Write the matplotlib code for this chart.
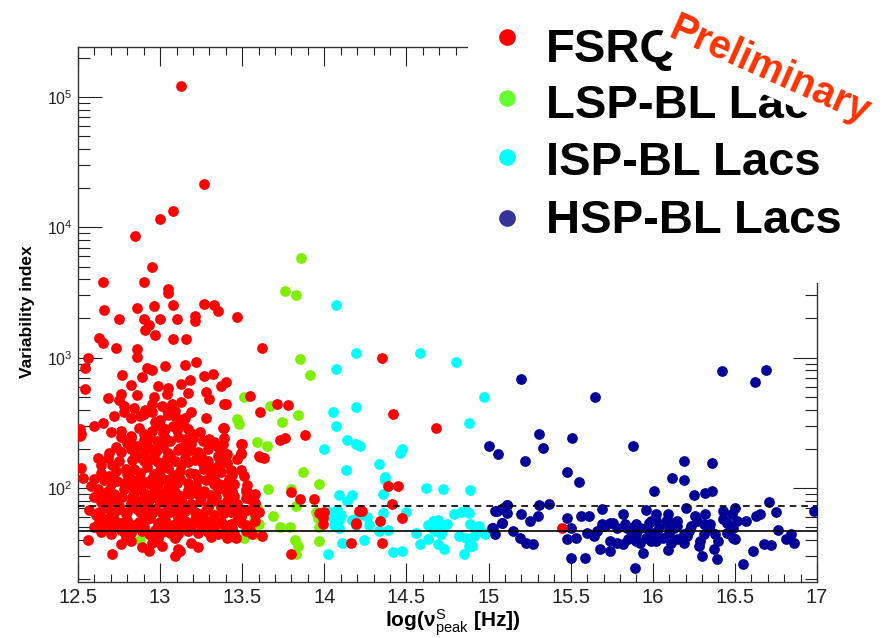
import matplotlib
matplotlib.use('Agg')
import matplotlib.pyplot as plt
from matplotlib.ticker import MultipleLocator, FuncFormatter
from matplotlib.patches import Rectangle
from matplotlib.lines import Line2D

plt.rcParams['font.family'] = ['Liberation Sans', 'DejaVu Sans']
plt.rcParams['mathtext.fontset'] = 'custom'
plt.rcParams['mathtext.rm'] = 'Liberation Sans'
plt.rcParams['mathtext.it'] = 'Liberation Sans:italic'
plt.rcParams['mathtext.bf'] = 'Liberation Sans:bold'

# ---------------- data: (log nu_peak, variability index) ----------------
fsrq = [
    (13.13,121600),(13.27,21400),(13.08,13300),(13.00,11500),(12.85,8570),(12.95,4990),(12.65,3820),(12.90,3820),(13.05,3370),(13.05,3150),
    (12.66,2340),(12.86,2410),(12.96,2470),(13.08,2540),(13.27,2600),(13.33,2530),(13.35,2270),(12.75,1990),(12.90,1990),(13.00,1990),
    (13.10,1990),(13.21,2080),(13.21,1920),(13.47,2040),(12.93,1790),(12.91,1630),(12.97,1480),(12.63,1420),(12.65,1290),(13.08,1390),
    (13.16,1390),(12.73,1190),(12.86,1170),(12.86,1010),(13.62,1190),(12.56,1000),(12.54,840),(12.92,840),(12.95,810),(13.03,860),
    (13.15,880),(13.22,920),(12.77,740),(12.89,710),(13.27,720),(13.32,750),(12.82,620),(12.99,610),(13.05,590),(13.13,630),
    (13.18,680),(13.37,610),(13.40,650),(12.54,575),(14.35,990),(14.42,369),(14.68,291),
    (12.68,490),(12.76,525),(12.75,470),(12.86,515),(13.17,540),(13.28,545),(13.30,480),(13.55,510),(12.96,500),(13.04,530),
    (12.78,425),(12.91,400),(12.95,445),(13.01,427),(13.07,440),(13.09,392),(13.13,460),(13.39,440),(13.40,445),(13.71,445),(13.78,435),(12.84,410),
    (12.72,358),(12.78,380),(12.82,347),(12.90,370),(12.95,380),(13.09,358),(13.15,347),(13.28,347),(13.61,380),(13.00,335),(13.05,365),(13.12,330),
    (12.51,282),(12.52,260),(12.60,300),(12.65,318),(12.76,274),(12.82,251),(12.90,258),(12.95,274),(13.00,300),(13.03,282),(13.08,300),(13.17,282),
    (13.20,258),(13.39,290),(13.38,290),(13.15,237),
    (12.51,251),(12.76,245),(12.82,240),(12.90,232),(12.94,245),(12.98,228),(13.03,240),(13.11,248),(13.19,218),(13.20,240),(13.30,238),(13.33,225),
    (13.39,243),(13.38,218),(13.49,218),(13.50,218),(13.73,233),(13.76,241),(13.88,254),(13.12,204),
    (12.73,205),(12.82,198),(12.86,210),(12.90,190),(12.94,200),(12.98,195),(13.02,205),(13.05,185),(13.11,195),(13.15,210),(13.19,195),(13.23,190),
    (13.29,200),(13.35,205),(13.49,187),(13.41,182),(13.49,182),(13.60,176),(13.63,169),(13.36,171),
    (12.62,171),(12.68,171),(12.75,161),(12.83,165),(12.87,172),(12.90,160),(12.95,168),(12.99,158),(13.04,170),(13.09,162),(13.15,171),(13.17,157),
    (13.21,165),(13.26,152),(13.29,161),(13.35,176),(13.35,148),(13.47,167),(13.41,155),(13.61,173),(12.52,143),(12.64,150),
    (12.64,131),(12.73,135),(12.69,124),(12.84,140),(12.88,130),(12.92,145),(12.96,128),(13.00,138),(13.05,142),(13.08,126),(13.12,135),(13.21,127),
    (13.27,140),(13.31,130),(13.37,132),(13.43,138),(13.49,137),(13.51,124),(12.53,120),(12.80,128),
    (12.58,104),(12.60,117),(12.74,113),(12.70,108),(12.78,110),(12.82,118),(12.86,105),(12.91,112),(12.95,120),(12.99,108),(13.04,115),(13.07,106),
    (13.12,118),(13.17,110),(13.22,104),(13.28,116),(13.33,108),(13.42,117),(13.40,107),(13.45,107),(13.36,107),(13.53,105),(14.39,104),(14.45,104),
    (12.68,95),(12.72,90),(12.78,98),(12.84,92),(12.88,100),(12.93,88),(12.97,96),(13.01,90),(13.05,100),(13.09,93),(13.13,87),(13.17,97),
    (13.23,90),(13.27,95),(13.31,88),(13.35,99),(13.41,92),(13.45,87),(13.52,96),(13.52,95),(13.58,90),(13.80,94),(13.85,83),(13.94,83),(12.62,98),
    (12.64,78),(12.67,82),(12.72,75),(12.77,85),(12.82,77),(12.88,80),(12.92,74),(12.99,84),(13.05,78),(13.09,73),(13.13,82),(13.19,76),
    (13.25,85),(13.31,78),(13.37,74),(13.41,80),(13.47,76),(13.52,84),(13.58,77),(13.43,71),(13.37,71),(13.57,75),(12.60,86),(12.75,73),
    (12.63,65),(12.66,70),(12.70,62),(12.74,68),(12.79,63),(12.84,72),(12.88,66),(12.93,61),(12.97,69),(13.01,64),(13.05,72),(13.11,62),
    (13.15,67),(13.19,70),(13.23,63),(13.28,68),(13.33,62),(13.39,71),(13.43,65),(13.49,61),(13.53,68),(13.58,63),(14.00,66),(13.97,64),
    (13.99,59),(14.21,67),(14.23,67),(14.41,75),(14.47,59),(12.57,68),(12.92,70),(13.06,66),
    (12.63,55),(12.67,52),(12.72,58),(12.76,54),(12.80,57),(12.85,52),(12.91,56),(12.94,59),(12.99,53),(13.03,57),(13.08,52),(13.11,59),
    (13.17,54),(13.21,58),(13.25,52),(13.31,56),(13.37,55),(13.43,53),(13.47,57),(13.52,52),(13.58,56),(13.49,61),(13.99,53),(14.19,53),
    (14.19,54),(14.34,56),(12.70,60),
    (12.64,46),(12.70,44),(12.76,48),(12.82,45),(12.89,47),(12.95,43),(13.01,46),(13.07,49),(13.11,44),(13.17,47),(13.23,45),(13.35,44),
    (13.41,46),(13.45,44),(13.52,47),(13.62,43),(13.41,41),(15.45,49.6),(12.86,50),(13.28,48),
    (12.56,40),(12.76,37),(12.82,39),(12.89,35),(12.95,38),(13.01,36),(13.11,34),(13.19,38),(13.23,35),(14.16,38),(14.35,38),(12.99,41),
    (12.71,31),(13.09,30),(13.12,33),(13.80,31),(12.93,33),
    (12.66,58),(12.69,49),(12.74,51),(12.78,46),(12.81,53),(12.87,55),(12.90,50),(12.97,48),(13.00,55),(13.04,51),(13.06,45),(13.13,50),
    (13.15,56),(13.19,51),(13.26,55),(13.29,46),(13.33,50),(13.39,52),(13.44,49),(13.50,54),(13.55,48),(12.60,50),(12.93,44),(13.09,41),
    (13.31,42),(13.46,41),(12.79,42),(13.56,44),
    (12.65,88),(12.69,72),(12.73,82),(12.80,66),(12.83,86),(12.86,69),(12.90,92),(12.95,64),(13.00,78),(13.03,93),(13.07,84),(13.10,68),
    (13.14,75),(13.18,90),(13.21,66),(13.24,80),(13.29,72),(13.34,85),(13.39,64),(13.44,95),(13.48,68),(13.55,82),(13.60,66),(12.61,62),
    (12.71,67),(12.94,82),(13.26,60),
    (12.66,115),(12.71,150),(12.76,190),(12.79,140),(12.81,105),(12.85,180),(12.88,120),(12.92,165),(12.94,108),(12.97,185),(13.00,125),(13.02,150),
    (13.06,175),(13.10,110),(13.13,150),(13.18,130),(13.23,118),(13.25,175),(13.30,145),(13.33,120),(13.38,190),(13.44,125),(12.69,185),(13.16,190),
    (12.80,220),(12.87,290),(12.92,215),(12.97,320),(13.02,265),(13.06,230),(13.10,280),(13.14,310),(13.24,270),(13.26,230),(12.70,270),(12.88,360),
    (13.04,400),(13.19,380),
]

lsp_bllacs = [
    (13.86,5850),(13.76,3240),(13.83,3050),(13.85,985),(13.91,731),(13.51,495),(13.67,423),(13.47,337),(13.48,312),(13.84,362),
    (13.74,322),(13.59,227),(13.65,210),(13.22,187),(13.87,133),(13.66,99),(13.80,99),(13.97,107),(13.83,73),(13.69,61),
    (13.95,66),(13.96,59),(13.73,50),(13.79,50),(13.97,50),(13.60,53),(13.58,44),(13.51,41),(13.82,40),(13.84,36),
    (13.83,31),(13.97,39),(13.45,73),(13.43,66),(13.59,71),(13.57,59),(13.34,63),(13.24,63),(13.30,68),(12.88,40),
    (13.08,43),(13.17,68),
]

isp_bllacs = [
    (14.07,2540),(14.19,1090),(14.58,1090),(14.80,930),(14.07,815),(14.97,500),(14.19,415),(14.05,380),(14.07,300),(14.88,314),
    (14.14,233),(14.19,216),(14.22,210),(14.00,198),(14.47,198),(14.46,187),(14.13,137),(14.33,152),(14.37,122),(14.37,115),
    (14.36,90),(14.62,100),(14.72,99),(14.89,96),(14.09,88),(14.17,88),(14.14,79),(14.03,66),(14.06,61),(14.08,68),
    (14.05,59),(14.17,57),(14.26,60),(14.09,49),(14.36,64),(14.39,48),(14.50,66),(14.11,38),(14.24,40),(14.02,31),
    (14.42,32),(14.47,33),(14.56,45),(14.58,37),(14.63,52),(14.66,56),(14.69,57),(14.70,51),(14.72,49.5),(14.75,52.8),
    (14.68,46.7),(14.63,40.5),(14.69,37),(14.73,34),(14.79,63),(14.83,66),(14.86,67),(14.88,64),(14.82,43),(14.86,41),
    (14.88,36),(14.85,31),(14.89,53),(14.92,49.5),(14.94,51),(14.91,43),(14.98,44),(14.97,45),(14.90,36),(14.21,62),
    (14.27,52),(14.19,52),(14.33,47),(14.06,52),(14.09,57),(14.10,62),(14.67,48),(14.71,44),
]

hsp_bllacs = [
    (15.20,685),(15.65,495),(16.42,785),(16.62,655),(16.69,809),(15.31,259),(15.33,204),(15.00,210),(15.06,182),(15.22,160),
    (15.51,240),(15.88,209),(15.48,133),(15.55,112),(16.19,160),(16.36,155),(16.12,119),(16.19,116),(16.01,95),(16.25,88),
    (16.32,92),(16.36,95),(16.71,78.5),(16.98,67),(16.75,65.8),
    (15.11,74),(15.04,66.5),(15.11,64.6),(15.08,54),(15.02,49.5),(15.04,44),(15.15,46.7),
    (15.20,63.5),(15.25,55.7),(15.31,74),(15.30,61),(15.37,75),(15.27,36.9),(15.23,38),(15.19,41.5),
    (15.48,59),(15.50,49.5),(15.53,41.5),(15.48,40.3),(15.50,29.1),(15.59,29.1),
    (15.56,61),(15.61,61),(15.60,45.4),(15.64,42.8),(15.69,52.6),(15.69,68.5),(15.76,54),(15.74,39.2),(15.68,33.8),(15.74,32.8),
    (15.82,63.5),(15.83,52.6),(15.78,38),(15.82,36.9),(15.86,49.5),(15.86,41.5),(15.89,24.4),(15.94,31.8),
    (15.96,67.3),(15.98,54),(16.02,55.7),(16.00,45.4),(15.96,41.5),(16.02,39.2),(15.90,44),(15.92,38),(16.09,33.2),
    (16.08,55.7),(16.12,54),(16.10,45.4),(16.15,51),(16.19,44),(16.19,38),(16.22,46.7),(16.15,40.3),(16.20,70.6),
    (16.27,55.7),(16.31,52.6),(16.29,39.2),(16.28,35.8),(16.30,30),(16.35,52.6),(16.38,44),(16.40,39.2),(16.37,33.8),(16.39,28.3),
    (16.32,63.5),(16.43,66.5),(16.43,57.4),(16.45,45.4),(16.49,41.5),(16.50,70.6),(16.51,55.7),(16.55,26.2),
    (16.57,55.7),(16.63,61),(16.65,63.5),(16.61,32.8),(16.68,37.3),(16.72,36.5),(16.76,47.3),(16.81,40.3),(16.84,44.6),(16.86,38),
    (15.74,54),(15.78,49.5),(15.84,49.5),(15.90,52.6),(15.92,49.5),(15.96,49.5),(16.04,49.5),(16.10,51),(16.13,49.5),(16.02,62.8),
    (15.99,55.7),(16.09,62.8),(16.15,55.7),(16.23,51),(16.21,42.8),(16.26,61),(16.31,44),(16.34,49.5),(16.45,54),(16.49,49.5),
    (16.50,40.3),(16.48,62.8),(15.66,46.7),(15.71,51),(15.85,40.3),(15.90,39.2),(15.99,39.2),(16.06,41.5),(16.11,38),(16.02,45.4),
    (15.09,70.6),(15.05,66.5),(15.08,54.2),(15.03,49.5),(15.11,74.5),
]

series_names = ['FSRQ', 'LSP-BL Lacs', 'ISP-BL Lacs', 'HSP-BL Lacs']
mean_level = [46.7]
threshold_level = [72.6]
x_ticks = [12.5, 13, 13.5, 14, 14.5, 15, 15.5, 16, 16.5, 17]

# ---------------- figure ----------------
W, H = 889, 638
fig = plt.figure(figsize=(W / 100, H / 100), dpi=100)
ax = fig.add_axes([78 / W, 1 - 582 / H, (817 - 78) / W, (582 - 47) / H])

def fx(px):
    return px / W

def fy(py):
    return 1 - py / H

plot_colors = ['#FF0000', '#7FEF00', '#00FFFF', '#000099']
legend_colors = ['#FF0000', '#66FF33', '#00FFFF', '#333399']
all_series = [fsrq, lsp_bllacs, isp_bllacs, hsp_bllacs]
draw_order = [1, 2, 3, 0]
for i in draw_order:
    xs = [p[0] for p in all_series[i]]
    ys = [p[1] for p in all_series[i]]
    ax.scatter(xs, ys, s=60, color=plot_colors[i], linewidths=0, zorder=3 + draw_order.index(i))

for lv in mean_level:
    ax.axhline(lv, color='black', lw=1.2, zorder=8)
for lv in threshold_level:
    ax.axhline(lv, color='black', lw=1.2, ls=(0, (4, 3)), zorder=8)

ax.set_yscale('log')
ax.set_xlim(12.5, 17)
ax.set_ylim(19, 2.42e5)
ax.xaxis.set_major_locator(plt.FixedLocator(x_ticks))
ax.xaxis.set_minor_locator(MultipleLocator(0.1))
ax.xaxis.set_major_formatter(FuncFormatter(lambda v, p: '%g' % v))

ax.tick_params(which='both', direction='in', top=True, right=True, color='#222222')
ax.tick_params(axis='x', which='major', length=14, width=0.8, labelsize=14.5, pad=4, labelcolor='#222222')
ax.tick_params(axis='x', which='minor', length=6, width=0.8)
ax.tick_params(axis='y', which='major', length=17, width=0.8, labelsize=11.5, pad=4, labelcolor='#222222')
ax.tick_params(axis='y', which='minor', length=8.5, width=0.8)
for sp in ax.spines.values():
    sp.set_color('#333333')
    sp.set_linewidth(1.0)

# white legend area covering top-right of frame
fig.patches.append(Rectangle((fx(468), fy(283)), fx(889) - fx(468), 1 - fy(283),
                             transform=fig.transFigure, facecolor='white', edgecolor='none', zorder=10))

marker_y = [37, 98, 157, 218]
text_base = [62, 118, 175, 233]
for name, col, my, tb in zip(series_names, legend_colors, marker_y, text_base):
    fig.add_artist(Line2D([fx(507)], [fy(my)], marker='o', ms=11, color=col, ls='none',
                          transform=fig.transFigure, zorder=11))
    fig.text(fx(546), fy(tb), name, fontsize=34, fontweight='bold', ha='left', va='baseline', zorder=11)

fig.text(fx(770), fy(70), 'Preliminary', rotation=-24, ha='center', va='center', rotation_mode='anchor',
         fontsize=28.5, fontweight='bold', color='#FF3300', zorder=12,
         bbox=dict(facecolor='white', edgecolor='none', pad=4))

fig.text(fx(28), fy(312), 'Variability index', rotation=90, ha='center', va='center',
         fontsize=12.5, fontweight='bold')
fig.text(fx(521), fy(627), r'log(ν$^{\rm S}_{\rm peak}$ [Hz])', ha='right', va='baseline',
         fontsize=15, fontweight='bold')

fig.savefig('out.png', dpi=100)
